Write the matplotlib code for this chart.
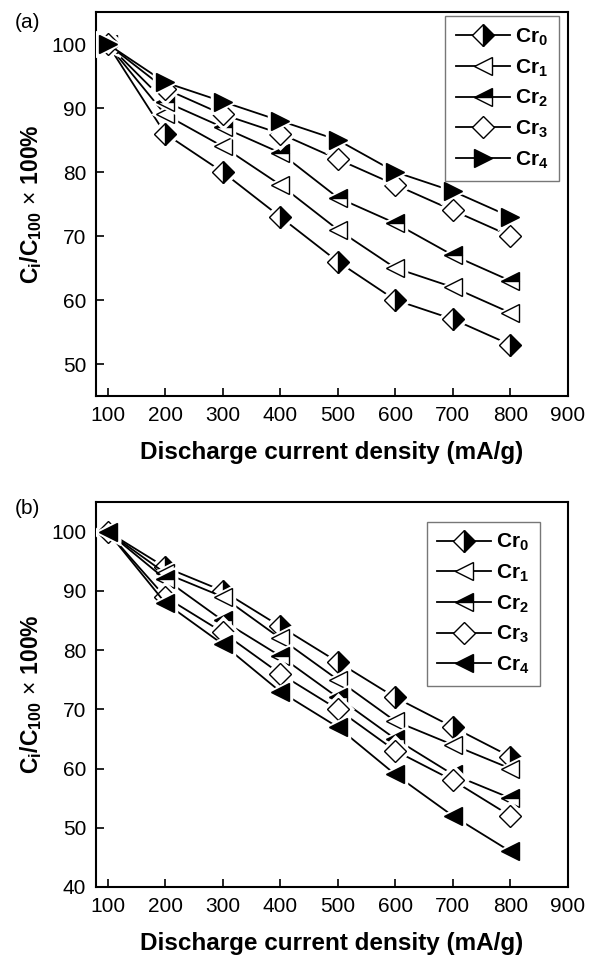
import matplotlib
matplotlib.use("Agg")
import matplotlib.pyplot as plt
from matplotlib.lines import Line2D

plt.rcParams['font.family'] = ['Liberation Sans', 'DejaVu Sans']
plt.rcParams['mathtext.fontset'] = 'custom'
plt.rcParams['mathtext.rm'] = 'Liberation Sans'
plt.rcParams['mathtext.it'] = 'Liberation Sans:italic'
plt.rcParams['mathtext.bf'] = 'Liberation Sans:bold'

x = [100, 200, 300, 400, 500, 600, 700, 800]
labels = ['Cr0', 'Cr1', 'Cr2', 'Cr3', 'Cr4']

a_cr0 = [100, 86, 80, 73, 66, 60, 57, 53]
a_cr1 = [100, 89, 84, 78, 71, 65, 62, 58]
a_cr2 = [100, 91, 87, 83, 76, 72, 67, 63]
a_cr3 = [100, 93, 89, 86, 82, 78, 74, 70]
a_cr4 = [100, 94, 91, 88, 85, 80, 77, 73]

b_cr0 = [100, 94, 90, 84, 78, 72, 67, 62]
b_cr1 = [100, 93, 89, 82, 75, 68, 64, 60]
b_cr2 = [100, 92, 85, 79, 72, 65, 59, 55]
b_cr3 = [100, 89, 83, 76, 70, 63, 58, 52]
b_cr4 = [100, 88, 81, 73, 67, 59, 52, 46]

xticks = [100, 200, 300, 400, 500, 600, 700, 800, 900]

fig = plt.figure(figsize=(5.94, 9.6), dpi=100)
axa = fig.add_axes([96/594, 1-396/960, 472/594, 384/960])
axb = fig.add_axes([96/594, 1-887/960, 472/594, 385/960])

def styles(last_marker):
    return [
        dict(marker='D', fillstyle='right', markerfacecolor='black', markerfacecoloralt='white'),
        dict(marker='<', fillstyle='full', markerfacecolor='white'),
        dict(marker='<', fillstyle='top', markerfacecolor='black', markerfacecoloralt='white'),
        dict(marker='D', fillstyle='full', markerfacecolor='white'),
        dict(marker=last_marker, fillstyle='full', markerfacecolor='black'),
    ]

def draw(ax, series, last_marker, ylim, yticks, legend_anchor):
    handles = []
    for i, (s, lab, st) in enumerate(zip(series, labels, styles(last_marker))):
        ms = 11.5 if st['marker'] == 'D' else 13
        z = 2 + i
        ax.plot(x, s, color='black', lw=1.3, zorder=z)
        ax.plot(x, s, linestyle='none', marker=st['marker'], markersize=ms + 3,
                markerfacecolor='white', markeredgecolor='white', markeredgewidth=2.5, zorder=z + 0.1)
        ax.plot(x, s, linestyle='none', markersize=ms, markeredgecolor='black',
                markeredgewidth=1.0, zorder=z + 0.2, **st)
        handles.append(Line2D([], [], color='black', lw=1.3, markersize=ms, markeredgecolor='black',
                              markeredgewidth=1.0, label=r'$\mathbf{Cr_{%s}}$' % lab[-1], **st))
    ax.set_xlim(80, 900)
    ax.set_ylim(*ylim)
    ax.set_xticks(xticks)
    ax.set_yticks(yticks)
    ax.tick_params(direction='in', length=6, width=1.2, labelsize=15, pad=7)
    for sp in ax.spines.values():
        sp.set_linewidth(1.5)
    ax.set_xlabel('Discharge current density (mA/g)', fontsize=17.5, fontweight='bold', labelpad=12)
    ax.set_ylabel(r'$\mathbf{C_i/C_{100}}\,\times\,\mathbf{100\%}$', fontsize=16.5,
                  fontweight='bold', labelpad=5)
    leg = ax.legend(handles=handles, loc='upper right', bbox_to_anchor=legend_anchor, frameon=True,
                    fancybox=False, edgecolor='#555555', prop={'size': 15, 'weight': 'bold'},
                    handlelength=2.6, labelspacing=0.45, borderpad=0.5, handletextpad=0.25,
                    borderaxespad=0.2)
    leg.get_frame().set_linewidth(1.0)
    leg.set_zorder(20)

draw(axa, [a_cr0, a_cr1, a_cr2, a_cr3, a_cr4], '>', (45, 105), [50, 60, 70, 80, 90, 100], (0.99, 1.0))
draw(axb, [b_cr0, b_cr1, b_cr2, b_cr3, b_cr4], '<', (40, 105), [40, 50, 60, 70, 80, 90, 100], (0.95, 0.96))

fig.text(15/594, 1-22/960, '(a)', fontsize=15, va='center', ha='left')
fig.text(15/594, 1-508/960, '(b)', fontsize=15, va='center', ha='left')

fig.savefig('out.png', dpi=100)
